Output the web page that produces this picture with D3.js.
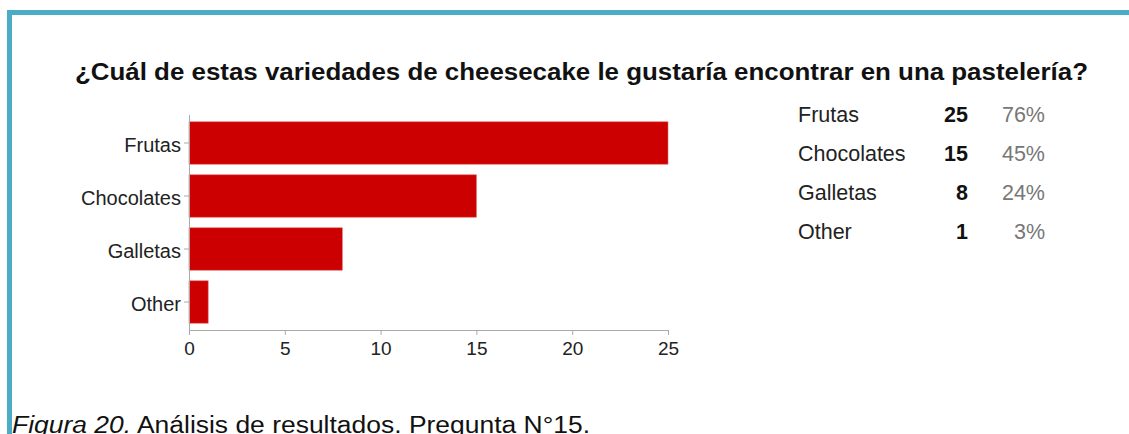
<!DOCTYPE html>
<html>
<head>
<meta charset="utf-8">
<script src="https://cdn.jsdelivr.net/npm/d3@7"></script>
<style>
  html, body { margin: 0; padding: 0; background: #fff; }
  svg { display: block; }
</style>
</head>
<body>
<div id="chart"></div>
<script>
// Plot constants
const WIDTH = 1129;
const HEIGHT = 434;

// Data
const categories = ["Frutas", "Chocolates", "Galletas", "Other"];
const counts = [25, 15, 8, 1];
const percents = ["76%", "45%", "24%", "3%"];
const xTicks = [0, 5, 10, 15, 20, 25];

const titleText = "¿Cuál de estas variedades de cheesecake le gustaría encontrar en una pastelería?";

const svg = d3
  .select("#chart")
  .append("svg")
  .attr("width", WIDTH)
  .attr("height", HEIGHT);

// Blue frame (top and left edges visible)
svg
  .append("path")
  .attr("d", `M9.5,${HEIGHT} V12.5 H${WIDTH}`)
  .attr("fill", "none")
  .attr("stroke", "#4bacc6")
  .attr("stroke-width", 5);

// Title
svg
  .append("text")
  .attr("x", 75)
  .attr("y", 80)
  .attr("font-family", "Liberation Sans, Arial, sans-serif")
  .attr("font-weight", "bold")
  .attr("font-size", "23px")
  .attr("fill", "#111")
  .attr("textLength", 1013)
  .attr("lengthAdjust", "spacingAndGlyphs")
  .text(titleText);

// Scales
const x = d3.scaleLinear().domain([0, 25]).range([189, 668]);
const y = d3
  .scaleBand()
  .domain(categories)
  .range([116.5, 328.5])
  .paddingInner(0.2)
  .paddingOuter(0.1);

const g = svg.append("g");

// Bars
g.selectAll("rect.bar")
  .data(categories)
  .enter()
  .append("rect")
  .attr("class", "bar")
  .attr("x", x(0))
  .attr("y", (d) => y(d))
  .attr("width", (d, i) => x(counts[i]) - x(0))
  .attr("height", y.bandwidth())
  .attr("fill", "#cc0000")
  .attr("stroke", "#e06666")
  .attr("stroke-width", 0.6);

// Y axis
const yAxis = g
  .append("g")
  .attr("transform", `translate(${x(0)},0)`)
  .call(d3.axisLeft(y).tickSize(5).tickPadding(3).tickSizeOuter(0));
yAxis.select(".domain").attr("d", `M0.5,115V330.5`);
yAxis.selectAll(".tick text").attr("dy", "0.45em").attr("font-size", "20px");

// X axis
const xAxis = g
  .append("g")
  .attr("transform", `translate(0,330)`)
  .call(d3.axisBottom(x).tickValues(xTicks).tickSize(5).tickPadding(7).tickSizeOuter(0));
xAxis.selectAll(".tick text").attr("font-size", "19px");

g.selectAll(".domain").attr("stroke", "#aaa");
g.selectAll(".tick line").attr("stroke", "#aaa");
g.selectAll(".tick text")
  .attr("fill", "#222")
  .attr("font-family", "Liberation Sans, Arial, sans-serif");

// Legend table on the right
const rowY = d3.scalePoint().domain(categories).range([122, 239]);
const legend = svg
  .append("g")
  .attr("font-family", "Liberation Sans, Arial, sans-serif")
  .attr("font-size", "21.5px");

legend
  .selectAll("text.name")
  .data(categories)
  .enter()
  .append("text")
  .attr("class", "name")
  .attr("x", 798)
  .attr("y", (d) => rowY(d))
  .attr("fill", "#222")
  .text((d) => d);

legend
  .selectAll("text.count")
  .data(categories)
  .enter()
  .append("text")
  .attr("class", "count")
  .attr("x", 968)
  .attr("y", (d) => rowY(d))
  .attr("text-anchor", "end")
  .attr("font-weight", "bold")
  .attr("fill", "#111")
  .text((d, i) => counts[i]);

legend
  .selectAll("text.pct")
  .data(categories)
  .enter()
  .append("text")
  .attr("class", "pct")
  .attr("x", 1045)
  .attr("y", (d) => rowY(d))
  .attr("text-anchor", "end")
  .attr("fill", "#777")
  .text((d, i) => percents[i]);

// Caption (cut off at the bottom edge, as in the source)
const caption = svg
  .append("text")
  .attr("x", 12)
  .attr("y", 433)
  .attr("font-family", "Liberation Sans, Arial, sans-serif")
  .attr("font-size", "23px")
  .attr("fill", "#111")
  .attr("textLength", 578)
  .attr("lengthAdjust", "spacingAndGlyphs");
caption.append("tspan").attr("font-style", "italic").text("Figura 20.");
caption.append("tspan").text(" Análisis de resultados. Pregunta N°15.");
</script>
</body>
</html>
